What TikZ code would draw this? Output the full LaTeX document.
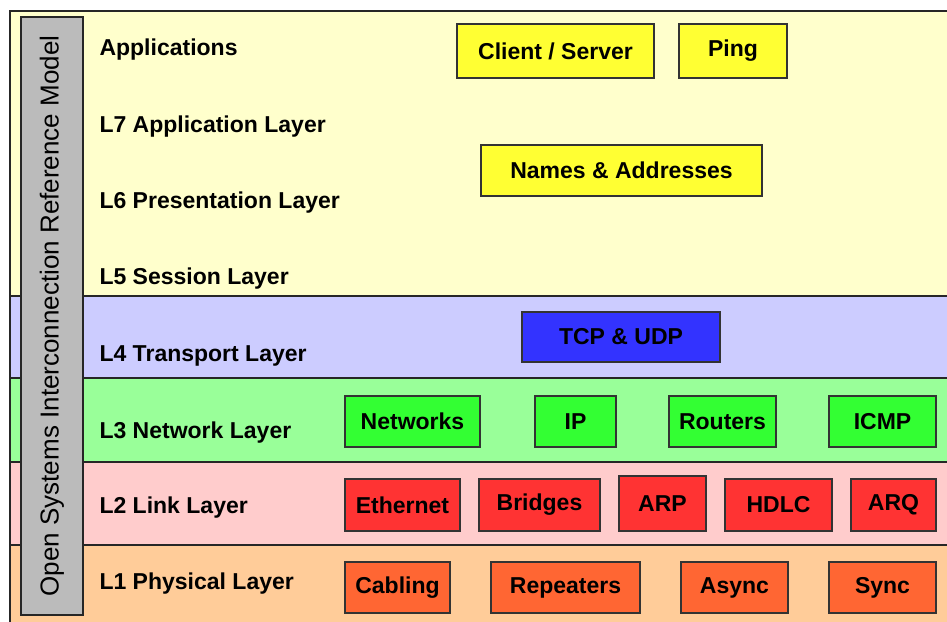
\documentclass[tikz,border=0pt]{standalone}
\usepackage{fontspec}
\setmainfont{Liberation Sans}
\definecolor{appband}{HTML}{FFFFCC}
\definecolor{trnband}{HTML}{CCCCFF}
\definecolor{netband}{HTML}{99FF99}
\definecolor{lnkband}{HTML}{FFCCCC}
\definecolor{phyband}{HTML}{FFCC99}
\definecolor{appbox}{HTML}{FFFF33}
\definecolor{trnbox}{HTML}{3333FF}
\definecolor{netbox}{HTML}{33FF33}
\definecolor{lnkbox}{HTML}{FF3333}
\definecolor{phybox}{HTML}{FF6633}
\definecolor{osigray}{HTML}{BBBBBB}
\begin{document}
\begin{tikzpicture}[x=1pt,y=-1pt,
	every node/.style={font=\fontsize{23}{27}\selectfont\bfseries},
	band/.style={draw=black!85,line width=1.2pt},
	lyr/.style={anchor=west},
	box/.style={draw=black!80,line width=1.2pt,inner sep=0pt}]
	\useasboundingbox (0,0) rectangle (947,621);
	\fill[white] (0,0) rectangle (947,621);
	\draw[band,fill=appband] (10,11) rectangle (960,296);
	\draw[band,fill=trnband] (10,296) rectangle (960,378);
	\draw[band,fill=netband] (10,378) rectangle (960,462);
	\draw[band,fill=lnkband] (10,462) rectangle (960,545);
	\draw[band,fill=phyband] (10,545) rectangle (960,630);
	\node[draw=black!85,line width=1.2pt,fill=osigray,rotate=90,minimum width=598,minimum height=62,inner sep=0pt,font=\fontsize{26}{30}\selectfont] (osi) at (52,316) {Open Systems Interconnection Reference Model};
	\node[lyr] (lapp) at (96,50) {Applications};
	\node[lyr] (l7) at (96,127) {L7 Application Layer};
	\node[lyr] (l6) at (96,203) {L6 Presentation Layer};
	\node[lyr] (l5) at (96,279) {L5 Session Layer};
	\node[lyr] (l4) at (96,356) {L4 Transport Layer};
	\node[lyr] (l3) at (96,433) {L3 Network Layer};
	\node[lyr] (l2) at (96,508) {L2 Link Layer};
	\node[lyr] (l1) at (96,584) {L1 Physical Layer};
	% applications
	\node[box,fill=appbox,minimum width=197,minimum height=54] (cs) at (555.5,51) {Client / Server};
	\node[box,fill=appbox,minimum width=108,minimum height=54] (ping) at (733,51) {Ping};
	\node[box,fill=appbox,minimum width=281,minimum height=51] (names) at (621.5,170.5) {Names \& Addresses};
	% transport
	\node[box,fill=trnbox,minimum width=198,minimum height=50] (tcp) at (621,337) {TCP \& UDP};
	% network
	\node[box,fill=netbox,minimum width=135,minimum height=51] (nets) at (412.5,421.5) {Networks};
	\node[box,fill=netbox,minimum width=81,minimum height=51] (ip) at (575.5,421.5) {IP};
	\node[box,fill=netbox,minimum width=107,minimum height=51] (rtr) at (722.5,421.5) {Routers};
	\node[box,fill=netbox,minimum width=107,minimum height=51] (icmp) at (882.5,421.5) {ICMP};
	% link
	\node[box,fill=lnkbox,minimum width=115,minimum height=52] (eth) at (402.5,505) {Ethernet};
	\node[box,fill=lnkbox,minimum width=121,minimum height=52] (brg) at (539.5,505) {Bridges};
	\node[box,fill=lnkbox,minimum width=87,minimum height=55] (arp) at (662.5,503.5) {ARP};
	\node[box,fill=lnkbox,minimum width=107,minimum height=52] (hdlc) at (778.5,505) {HDLC};
	\node[box,fill=lnkbox,minimum width=85,minimum height=52] (arq) at (893.5,505) {ARQ};
	% physical
	\node[box,fill=phybox,minimum width=105,minimum height=51] (cab) at (397.5,587.5) {Cabling};
	\node[box,fill=phybox,minimum width=149,minimum height=51] (rep) at (565.5,587.5) {Repeaters};
	\node[box,fill=phybox,minimum width=107,minimum height=51] (async) at (734.5,587.5) {Async};
	\node[box,fill=phybox,minimum width=107,minimum height=51] (sync) at (882.5,587.5) {Sync};
\end{tikzpicture}
\end{document}
